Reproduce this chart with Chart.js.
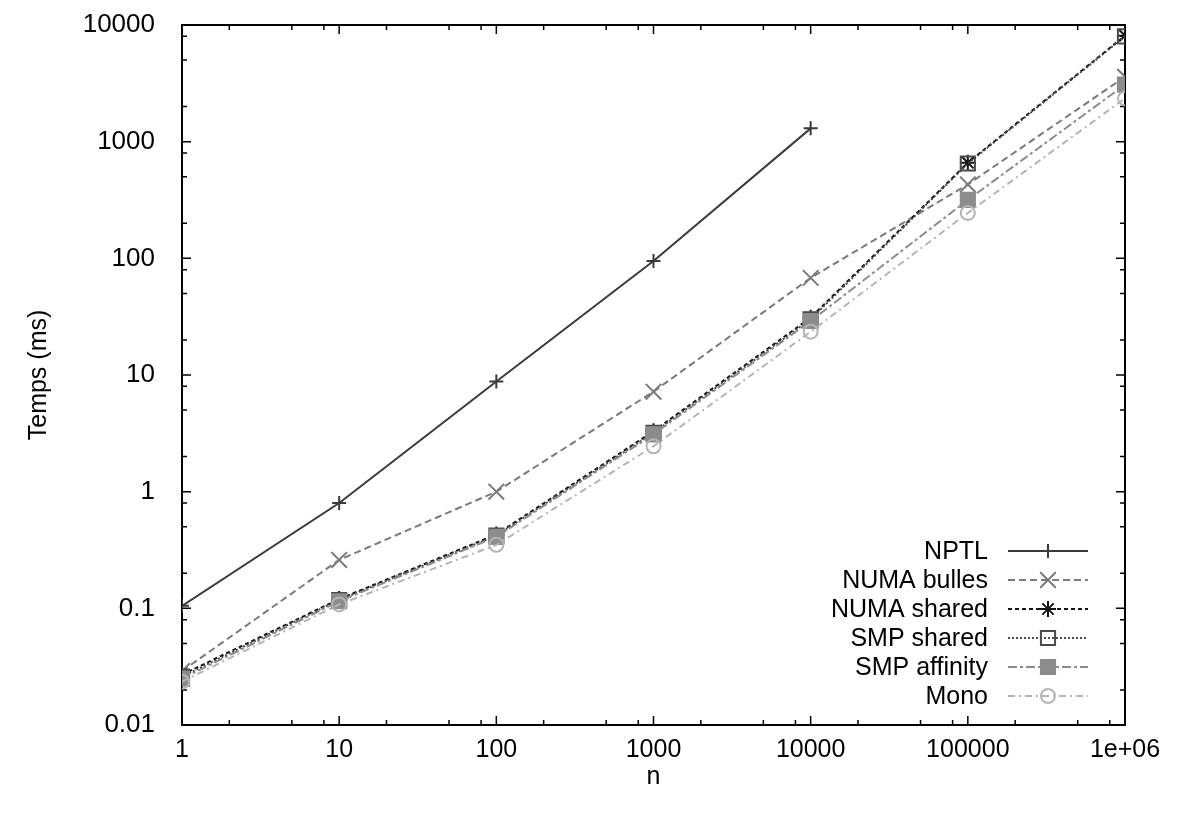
<!DOCTYPE html>
<html>
<head>
<meta charset="utf-8">
<title>Temps vs n</title>
<script src="https://cdn.jsdelivr.net/npm/chart.js@4/dist/chart.umd.min.js"></script>
<style>
  html, body { margin: 0; padding: 0; background: #fff; }
  #wrap { width: 1180px; height: 814px; position: relative; }
</style>
</head>
<body>
<div id="wrap"><canvas id="chart" width="1180" height="814"></canvas></div>
<script>
// values (n -> temps in ms)
const sizes = [1, 10, 100, 1000, 10000, 100000, 1000000];
const nptl = [0.105, 0.8, 8.8, 95, 1300];
const numaBulles = [0.029, 0.26, 1.0, 7.2, 68, 430, 3600];
const numaShared = [0.027, 0.12, 0.43, 3.3, 31, 660, 8100];
const smpShared = [0.026, 0.118, 0.42, 3.2, 30, 650, 8000];
const smpAffinity = [0.025, 0.115, 0.41, 3.1, 29, 317, 3080];
const mono = [0.0235, 0.108, 0.35, 2.45, 23.5, 245, 2350];

const xTicks = [1, 10, 100, 1000, 10000, 100000, 1000000];
const yTicks = [0.01, 0.1, 1, 10, 100, 1000, 10000];
const minorSteps = [2, 5, 8];

const FONT = "'Liberation Sans', Arial, Helvetica, sans-serif";

function pts(values) {
  return values.map((v, i) => ({ x: sizes[i], y: v }));
}

function fmt(v) {
  if (v >= 1000000) return '1e+06';
  return String(v);
}

const series = [
  { label: 'NPTL', data: nptl, color: '#3a3a3a', dash: [], style: 'cross', radius: 7, fill: false },
  { label: 'NUMA bulles', data: numaBulles, color: '#7a7a7a', dash: [7, 4], style: 'crossRot', radius: 11, fill: false },
  { label: 'NUMA shared', data: numaShared, color: '#151515', dash: [4, 3], style: 'star', radius: 8, fill: false },
  { label: 'SMP shared', data: smpShared, color: '#4a4a4a', dash: [2, 2], style: 'rect', radius: 10, fill: false },
  { label: 'SMP affinity', data: smpAffinity, color: '#8c8c8c', dash: [9, 3, 3, 3], style: 'rect', radius: 10, fill: true },
  { label: 'Mono', data: mono, color: '#b4b4b4', dash: [7, 4, 2, 4], style: 'circle', radius: 7, fill: false }
];

// frame with inward ticks on all four sides (gnuplot look)
const framePlugin = {
  id: 'frame',
  beforeDatasetsDraw(chart) {
    const { ctx, chartArea: a, scales } = chart;
    const xs = scales.x, ys = scales.y;
    ctx.save();
    ctx.strokeStyle = '#000';
    ctx.lineWidth = 1.5;
    ctx.setLineDash([]);
    ctx.beginPath();
    const tick = (px, len, horizontal) => {
      if (horizontal) {
        ctx.moveTo(px, a.bottom); ctx.lineTo(px, a.bottom - len);
        ctx.moveTo(px, a.top); ctx.lineTo(px, a.top + len);
      } else {
        ctx.moveTo(a.left, px); ctx.lineTo(a.left + len, px);
        ctx.moveTo(a.right, px); ctx.lineTo(a.right - len, px);
      }
    };
    xTicks.forEach((v, i) => {
      tick(xs.getPixelForValue(v), 9, true);
      if (i < xTicks.length - 1) minorSteps.forEach(m => tick(xs.getPixelForValue(v * m), 5, true));
    });
    yTicks.forEach((v, i) => {
      tick(ys.getPixelForValue(v), 9, false);
      if (i < yTicks.length - 1) minorSteps.forEach(m => tick(ys.getPixelForValue(v * m), 5, false));
    });
    ctx.stroke();
    ctx.lineWidth = 2;
    ctx.strokeRect(a.left, a.top, a.right - a.left, a.bottom - a.top);
    ctx.restore();
  }
};

// legend in the lower right corner, text right-aligned, sample to its right
const keyPlugin = {
  id: 'key',
  afterDraw(chart) {
    const { ctx } = chart;
    const textRight = 988, lineStart = 1008, lineEnd = 1088, firstRow = 551, rowStep = 29;
    ctx.save();
    ctx.font = '25px ' + FONT;
    ctx.textAlign = 'right';
    ctx.textBaseline = 'middle';
    chart.data.datasets.forEach((ds, i) => {
      const y = firstRow + i * rowStep;
      ctx.fillStyle = '#000';
      ctx.fillText(ds.label, textRight, y + 1);
      ctx.strokeStyle = ds.borderColor;
      ctx.lineWidth = 2;
      ctx.setLineDash(ds.borderDash);
      ctx.beginPath();
      ctx.moveTo(lineStart, y);
      ctx.lineTo(lineEnd, y);
      ctx.stroke();
      ctx.setLineDash([]);
      ctx.fillStyle = ds.pointBackgroundColor;
      if (Chart.helpers && Chart.helpers.drawPoint) {
        Chart.helpers.drawPoint(ctx, {
          pointStyle: ds.pointStyle, rotation: 0, radius: ds.pointRadius, borderWidth: 2
        }, (lineStart + lineEnd) / 2, y);
      }
    });
    ctx.restore();
  }
};

new Chart(document.getElementById('chart'), {
  type: 'line',
  data: {
    datasets: series.map((s, i) => ({
      label: s.label,
      data: pts(s.data),
      borderColor: s.color,
      borderWidth: 2,
      borderDash: s.dash,
      pointStyle: s.style,
      pointRadius: s.radius,
      pointHoverRadius: s.radius,
      pointBorderColor: s.color,
      pointBackgroundColor: s.fill ? s.color : 'rgba(0,0,0,0)',
      pointBorderWidth: 2,
      tension: 0,
      fill: false,
      order: series.length - i
    }))
  },
  options: {
    responsive: false,
    animation: false,
    devicePixelRatio: 1,
    layout: { padding: { top: 25, right: 55, left: 0, bottom: 0 } },
    plugins: { legend: { display: false }, tooltip: { enabled: false } },
    scales: {
      x: {
        type: 'logarithmic',
        min: 1,
        max: 1000000,
        afterBuildTicks: s => { s.ticks = xTicks.map(v => ({ value: v })); },
        afterFit: s => { s.height = 89; s.paddingLeft = 0; s.paddingRight = 0; },
        grid: { display: false },
        border: { display: false },
        ticks: {
          callback: v => fmt(v),
          color: '#000',
          font: { family: FONT, size: 25 },
          padding: 2,
          maxRotation: 0,
          autoSkip: false
        },
        title: {
          display: true,
          text: 'n',
          color: '#000',
          font: { family: FONT, size: 25 },
          padding: { top: 0, bottom: 22 }
        }
      },
      y: {
        type: 'logarithmic',
        min: 0.01,
        max: 10000,
        afterBuildTicks: s => { s.ticks = yTicks.map(v => ({ value: v })); },
        afterFit: s => { s.width = 182; s.paddingTop = 0; s.paddingBottom = 0; },
        grid: { display: false },
        border: { display: false },
        ticks: {
          callback: v => fmt(v),
          color: '#000',
          font: { family: FONT, size: 26 },
          padding: 19,
          autoSkip: false
        },
        title: {
          display: true,
          text: 'Temps (ms)',
          color: '#000',
          font: { family: FONT, size: 25 },
          padding: { top: 24, bottom: 0 }
        }
      }
    }
  },
  plugins: [framePlugin, keyPlugin]
});
</script>
</body>
</html>
